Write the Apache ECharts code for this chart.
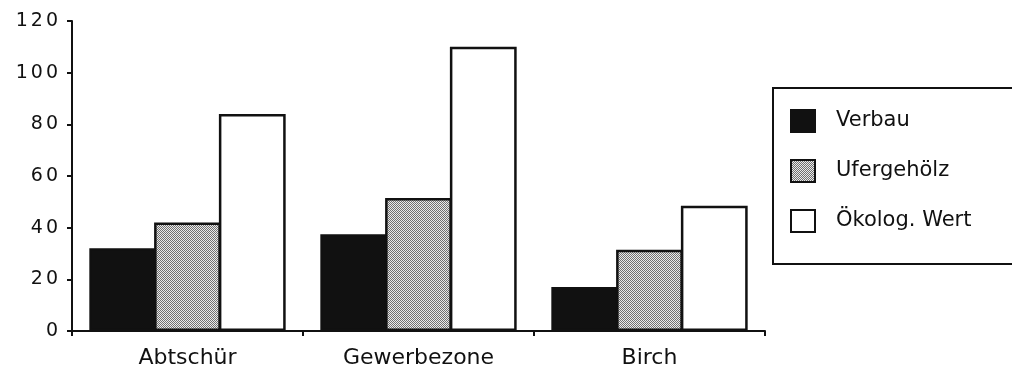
<!DOCTYPE html>
<html>
<head>
<meta charset="utf-8">
<script src="https://cdn.jsdelivr.net/npm/echarts@6/dist/echarts.min.js"></script>
<style>
html,body{margin:0;padding:0;background:#fff;}
#chart{width:1012px;height:372px;}
</style>
</head>
<body>
<div id="chart"></div>
<script>
var categories = ['Abtschür', 'Gewerbezone', 'Birch'];
var seriesNames = ['Verbau', 'Ufergehölz', 'Ökolog. Wert'];
var verbau = [32, 37.5, 17];
var ufergehoelz = [42, 51.5, 31.5];
var oekologWert = [84, 110, 48.5];
var yTicks = [0, 20, 40, 60, 80, 100, 120];

var cv = document.createElement('canvas');
cv.width = 2; cv.height = 2;
var cx = cv.getContext('2d');
cx.fillStyle = '#eaeaea'; cx.fillRect(0, 0, 2, 2);
cx.fillStyle = '#707070'; cx.fillRect(0, 0, 1, 1); cx.fillRect(1, 1, 1, 1);

var FONT = 'DejaVu Sans';
var chart = echarts.init(document.getElementById('chart'), null, {renderer: 'canvas'});

function spaced(v) {
  var s = String(v);
  return s.split('').map(function (c, i) { return (i ? '{b|' : '{a|') + c + '}'; }).join('');
}

var border = {borderColor: '#111', borderWidth: 2.5};

chart.setOption({
  animation: false,
  backgroundColor: '#fff',
  grid: {left: 72, right: 247, top: 21, bottom: 41},
  legend: {
    orient: 'vertical',
    left: 773, top: 88,
    padding: [21, 70, 31, 17],
    itemWidth: 24, itemHeight: 22, itemGap: 26,
    borderColor: '#111', borderWidth: 2,
    textStyle: {fontFamily: FONT, fontSize: 21, color: '#111', padding: [0, 0, 0, 16]},
    icon: 'rect',
    data: seriesNames
  },
  xAxis: {
    type: 'category',
    data: categories,
    axisLine: {lineStyle: {color: '#111', width: 2}},
    axisTick: {show: true, length: 5, lineStyle: {color: '#111', width: 2}},
    axisLabel: {fontFamily: FONT, fontSize: 22, color: '#111', margin: 16}
  },
  yAxis: {
    type: 'value',
    min: yTicks[0], max: yTicks[yTicks.length - 1], interval: 20,
    splitLine: {show: false},
    axisLine: {show: true, lineStyle: {color: '#111', width: 2}},
    axisTick: {show: true, length: 5, lineStyle: {color: '#111', width: 2}},
    axisLabel: {
      margin: 14,
      formatter: spaced,
      rich: {
        a: {fontFamily: FONT, fontSize: 19, color: '#111'},
        b: {fontFamily: FONT, fontSize: 19, color: '#111', padding: [0, 0, 0, 3]}
      }
    }
  },
  series: [
    {name: seriesNames[0], type: 'bar', data: verbau, barGap: '-3%', barCategoryGap: '15%',
     itemStyle: Object.assign({color: '#111'}, border)},
    {name: seriesNames[1], type: 'bar', data: ufergehoelz, barGap: '-3%', barCategoryGap: '15%',
     itemStyle: Object.assign({color: {image: cv, repeat: 'repeat'}}, border)},
    {name: seriesNames[2], type: 'bar', data: oekologWert, barGap: '-3%', barCategoryGap: '15%',
     itemStyle: Object.assign({color: '#ffffff'}, border)}
  ]
});
</script>
</body>
</html>
